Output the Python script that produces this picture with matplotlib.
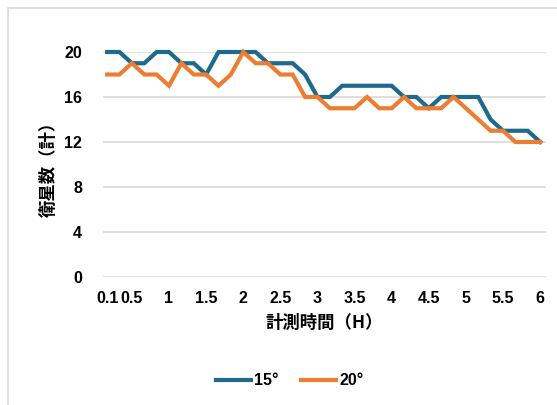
import matplotlib.pyplot as plt
from matplotlib.patches import Rectangle

# measurement times in hours (every 10 minutes)
times = [0.167, 0.333, 0.5, 0.667, 0.833, 1.0, 1.167, 1.333, 1.5, 1.667, 1.833, 2.0,
         2.167, 2.333, 2.5, 2.667, 2.833, 3.0, 3.167, 3.333, 3.5, 3.667, 3.833, 4.0,
         4.167, 4.333, 4.5, 4.667, 4.833, 5.0, 5.167, 5.333, 5.5, 5.667, 5.833, 6.0]

sats_15 = [20, 20, 19, 19, 20, 20, 19, 19, 18, 20, 20, 20, 20, 19, 19, 19, 18, 16,
           16, 17, 17, 17, 17, 17, 16, 16, 15, 16, 16, 16, 16, 14, 13, 13, 13, 12]
sats_20 = [18, 18, 19, 18, 18, 17, 19, 18, 18, 17, 18, 20, 19, 19, 18, 18, 16, 16,
           15, 15, 15, 16, 15, 15, 16, 15, 15, 15, 16, 15, 14, 13, 13, 12, 12, 12]

tick_pos = [0.167, 0.5, 1, 1.5, 2, 2.5, 3, 3.5, 4, 4.5, 5, 5.5, 6]
tick_labels = ['0.1', '0.5', '1', '1.5', '2', '2.5', '3', '3.5', '4', '4.5', '5', '5.5', '6']
y_ticks = [0, 4, 8, 12, 16, 20]

blue = '#1d6a8c'
orange = '#ed7d31'
cjk = ['Noto Sans CJK JP', 'DejaVu Sans']
num_font = {'family': 'Liberation Sans', 'weight': 'bold', 'size': 11.5}

fig = plt.figure(figsize=(5.57, 4.05), dpi=100)
fig.patches.append(Rectangle((8 / 557, -0.2), 2, 1.2 - 8 / 405, transform=fig.transFigure,
                             fill=False, edgecolor='#d9d9d9', lw=1.2))

ax = fig.add_axes([0.1844, 0.316, 0.796, 0.5556])
ax.plot(times, sats_15, color=blue, lw=3, label='15°', clip_on=False, solid_joinstyle='miter')
ax.plot(times, sats_20, color=orange, lw=3, label='20°', clip_on=False, solid_joinstyle='miter')

ax.set_xlim(0.167 - 0.06, 6 + 0.08)
ax.set_ylim(0, 20)
ax.set_yticks(y_ticks)
ax.set_yticklabels([str(v) for v in y_ticks], fontdict=num_font)
ax.set_xticks(tick_pos)
ax.set_xticklabels(tick_labels, fontdict=num_font)
ax.tick_params(length=0)
ax.tick_params(axis='y', pad=15)
ax.tick_params(axis='x', pad=10)
ax.grid(axis='y', color='#d9d9d9', lw=1.2)
ax.set_axisbelow(True)
for s in ax.spines.values():
    s.set_visible(False)

ax.set_xlabel('計測時間（H）', family=cjk, fontsize=12.5, weight='bold', labelpad=6)
ax.set_ylabel('衛星数（計）', family=cjk, fontsize=12.5, weight='bold', labelpad=4)

leg = fig.legend(loc='center', bbox_to_anchor=(0.52, 0.06), ncol=2, frameon=False,
                 handlelength=2.2, columnspacing=1.4, handletextpad=0.2,
                 prop={'family': 'Liberation Sans', 'weight': 'bold', 'size': 11.5})

fig.savefig('out.png', dpi=100)
